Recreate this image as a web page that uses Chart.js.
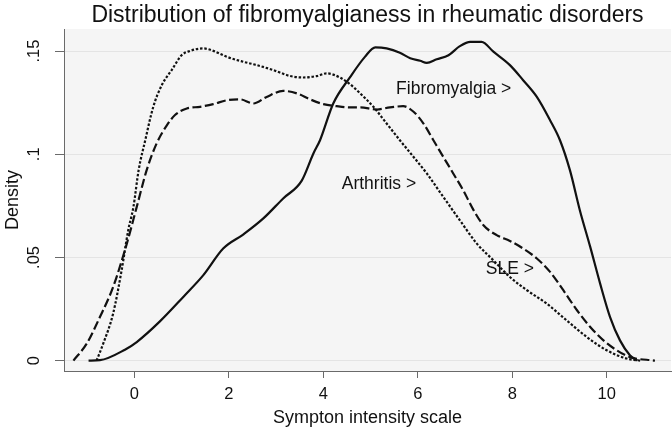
<!DOCTYPE html>
<html><head><meta charset="utf-8">
<script src="https://cdn.jsdelivr.net/npm/chart.js@4"></script>
<style>html,body{margin:0;padding:0;background:#fff}#wrap{width:672px;height:436px;position:relative}</style>
</head><body><div id="wrap"><canvas id="c" width="672" height="436"></canvas></div>
<script>
const titleText = "Distribution of fibromyalgianess in rheumatic disorders";
const xTitle = "Sympton intensity scale";
const yTitle = "Density";
const xTicks = [0, 2, 4, 6, 8, 10];
const yTicks = [0, 0.05, 0.1, 0.15];
const yTickLabels = ["0", ".05", ".1", ".15"];

// Fibromyalgia (solid)
const fibroX = [-0.97,-0.73,-0.20,0.05,0.54,1.04,1.46,1.88,2.31,2.73,3.15,3.54,3.79,3.93,4.21,4.57,4.88,5.10,5.34,5.62,5.84,6.05,6.19,6.40,6.65,6.89,7.11,7.35,7.60,7.95,8.23,8.52,8.80,9.01,9.22,9.43,9.65,9.86,10.07,10.28,10.49,10.65];
const fibroY = [0,0.0002,0.0053,0.009,0.019,0.031,0.0414,0.0543,0.0612,0.0689,0.0786,0.0871,0.1004,0.1068,0.1246,0.1375,0.1472,0.1518,0.1513,0.1492,0.1465,0.1453,0.1443,0.146,0.148,0.1524,0.1545,0.1545,0.1497,0.1432,0.1359,0.1278,0.1165,0.1068,0.0923,0.0729,0.0551,0.0373,0.0211,0.0098,0.0026,0];

// Arthritis (dotted)
const arthX = [-0.80,-0.66,-0.45,-0.27,-0.13,-0.02,0.09,0.23,0.40,0.58,0.79,1.00,1.18,1.46,1.67,1.96,2.31,2.59,2.94,3.30,3.58,3.86,4.07,4.21,4.50,4.78,5.06,5.34,5.62,5.91,6.19,6.54,6.89,7.25,7.60,7.95,8.31,8.73,9.15,9.58,10.00,10.42,10.71];
const arthY = [0,0.0082,0.0228,0.0438,0.0632,0.0745,0.0923,0.1068,0.123,0.1335,0.1408,0.148,0.1501,0.1513,0.1501,0.1472,0.1448,0.1432,0.1408,0.1379,0.1372,0.1379,0.1392,0.1386,0.1351,0.1295,0.123,0.1149,0.1068,0.0987,0.0907,0.0793,0.068,0.0567,0.0486,0.0405,0.0341,0.0276,0.0195,0.0114,0.005,0.001,0];

// SLE (dashed)
const sleX = [-1.29,-1.01,-0.73,-0.45,-0.16,0.05,0.26,0.47,0.69,0.86,1.11,1.39,1.67,1.96,2.24,2.52,2.80,3.15,3.44,3.72,4.00,4.28,4.57,4.78,5.13,5.41,5.69,5.91,6.12,6.33,6.54,6.75,6.96,7.18,7.39,7.67,7.95,8.23,8.52,8.80,9.08,9.37,9.65,9.93,10.21,10.49,11.02];
const sleY = [0,0.0082,0.0211,0.0357,0.0567,0.0745,0.0923,0.1052,0.1141,0.119,0.1222,0.123,0.1243,0.1262,0.1266,0.1246,0.1278,0.1307,0.1295,0.1266,0.1243,0.1233,0.1227,0.1227,0.1217,0.1227,0.1233,0.1206,0.1149,0.1068,0.0987,0.0907,0.0826,0.0729,0.0656,0.0608,0.058,0.0543,0.0495,0.043,0.0341,0.0244,0.0163,0.0098,0.005,0.0017,0];

const labelTexts = ["Fibromyalgia >", "Arthritis >", "SLE >"];
const labelX = [5.54, 4.39, 7.44];
const labelY = [0.1291, 0.0834, 0.0422];

const zip = (xs, ys) => xs.map((x, i) => ({x, y: ys[i]}));
const FONT = "'Liberation Sans', Arial, Helvetica, sans-serif";
const AXIS = '#6a6a6a';

const deco = {
  id: 'deco',
  beforeDraw(chart) {
    const {ctx, chartArea: a} = chart;
    ctx.save();
    ctx.fillStyle = '#f5f5f5';
    ctx.fillRect(a.left, a.top, a.right - a.left, a.bottom - a.top);
    ctx.restore();
  },
  afterDraw(chart) {
    const {ctx, chartArea: a, scales} = chart;
    const xs = scales.x, ys = scales.y;
    ctx.save();
    ctx.fillStyle = '#111';
    ctx.font = '23px ' + FONT;
    ctx.textAlign = 'center';
    ctx.textBaseline = 'alphabetic';
    ctx.fillText(titleText, (a.left + a.right) / 2, 22);
    ctx.font = '18px ' + FONT;
    ctx.fillText(xTitle, (a.left + a.right) / 2, 423);
    ctx.save();
    ctx.translate(18, (a.top + a.bottom) / 2);
    ctx.rotate(-Math.PI / 2);
    ctx.fillText(yTitle, 0, 0);
    ctx.restore();
    ctx.font = '16.5px ' + FONT;
    yTicks.forEach((v, i) => {
      ctx.save();
      ctx.translate(39, ys.getPixelForValue(v));
      ctx.rotate(-Math.PI / 2);
      ctx.fillText(yTickLabels[i], 0, 0);
      ctx.restore();
    });
    ctx.font = '17.5px ' + FONT;
    ctx.textAlign = 'left';
    labelTexts.forEach((t, i) => {
      ctx.fillText(t, xs.getPixelForValue(labelX[i]), ys.getPixelForValue(labelY[i]));
    });
    ctx.restore();
  }
};

const common = {borderColor: '#111', borderWidth: 2.2, pointRadius: 0, fill: false, cubicInterpolationMode: 'monotone'};

new Chart(document.getElementById('c'), {
  type: 'line',
  data: {
    datasets: [
      Object.assign({label: 'Fibromyalgia', data: zip(fibroX, fibroY)}, common),
      Object.assign({label: 'Arthritis', data: zip(arthX, arthY), borderDash: [2.5, 1.8]}, common),
      Object.assign({label: 'SLE', data: zip(sleX, sleY), borderDash: [9, 3.5]}, common)
    ]
  },
  options: {
    responsive: false,
    animation: false,
    devicePixelRatio: 1,
    layout: {padding: {left: 0, right: 1, top: 29, bottom: 0}},
    plugins: {legend: {display: false}, title: {display: false}, tooltip: {enabled: false}},
    scales: {
      x: {
        type: 'linear', min: -1.49, max: 11.36,
        afterBuildTicks: s => { s.ticks = xTicks.map(v => ({value: v})); },
        afterFit: s => { s.height = 65; },
        grid: {drawOnChartArea: false, drawTicks: true, tickLength: 7, tickColor: AXIS, tickWidth: 1},
        border: {display: true, color: AXIS, width: 1},
        ticks: {color: '#111', font: {size: 16.5, family: FONT}, padding: 7, maxRotation: 0, autoSkip: false}
      },
      y: {
        type: 'linear', min: -0.00504, max: 0.1607,
        afterBuildTicks: s => { s.ticks = yTicks.map(v => ({value: v})); },
        afterFit: s => { s.width = 64; },
        grid: {drawOnChartArea: true, color: '#e4e4e4', lineWidth: 1, drawTicks: true, tickLength: 9, tickColor: AXIS, tickWidth: 1},
        border: {display: true, color: AXIS, width: 1},
        ticks: {display: false}
      }
    }
  },
  plugins: [deco]
});
</script></body></html>
